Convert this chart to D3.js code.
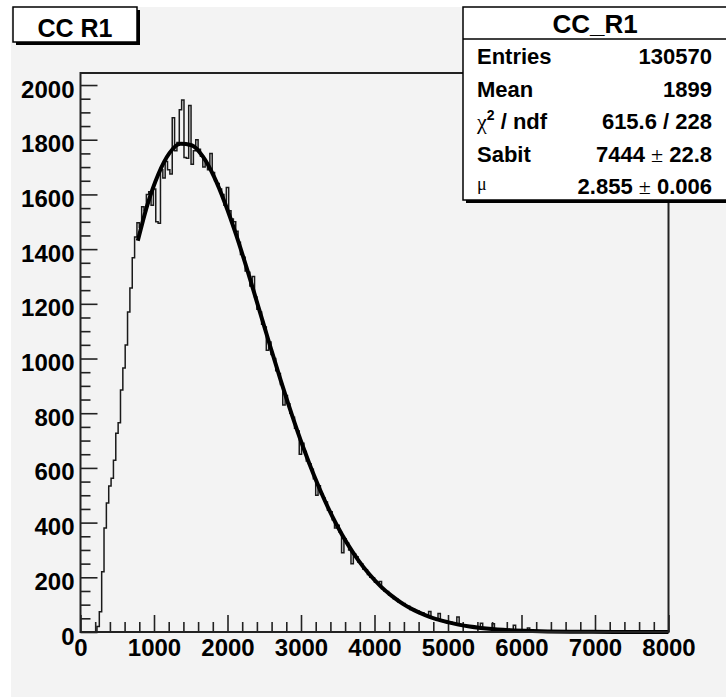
<!DOCTYPE html>
<html>
<head>
<meta charset="utf-8">
<script src="https://cdn.jsdelivr.net/npm/d3@7/dist/d3.min.js"></script>
<style>
  html, body { margin: 0; padding: 0; background: #ffffff; }
  svg { display: block; }
</style>
</head>
<body>
<svg id="chart" width="726" height="697"></svg>
<script>
// ---------------- data ----------------
const histTitle = "CC R1";
const statsTitle = "CC_R1";
const binWidth = 32;           // 250 bins over 0..8000
const xDomain = [0, 8000];
const yDomain = [0, 2044];
const xMajorTicks = [0, 1000, 2000, 3000, 4000, 5000, 6000, 7000, 8000];
const yMajorTicks = [0, 200, 400, 600, 800, 1000, 1200, 1400, 1600, 1800, 2000];

// bin contents
const counts = [
  // 0-6
  0, 0, 0, 0, 0, 0, 0,
  // 7-23
  20, 74, 220, 380, 472, 534, 562, 628, 727, 765, 885, 965, 1049, 1170, 1258, 1368, 1444,
  // 24-66
  1496, 1480, 1555, 1540, 1600, 1610, 1560, 1620, 1500, 1495,
  1690, 1660, 1720, 1690, 1675, 1880, 1760, 1790, 1910, 1945,
  1735, 1732, 1925, 1710, 1760, 1800, 1765, 1740, 1700, 1715,
  1690, 1750, 1680, 1650, 1640, 1620, 1600, 1560, 1625, 1540,
  1510, 1500, 1465,
  // 67-200
  1425, 1380, 1370, 1320, 1315, 1265, 1300, 1225, 1180, 1170,
  1125, 1115, 1030, 1060, 1015, 1000, 955, 945, 905, 830,
  865, 835, 800, 785, 745, 735, 650, 690, 660, 625,
  615, 595, 560, 500, 535, 505, 490, 475, 445, 440,
  410, 380, 390, 365, 290, 340, 325, 300, 250, 285,
  275, 255, 250, 230, 228, 210, 200, 198, 182, 180,
  185, 158, 150, 148, 135, 133, 122, 120, 110, 108,
  104, 95, 94, 82, 84, 76, 77, 68, 70, 62,
  63, 75, 52, 50, 48, 68, 43, 38, 40, 34,
  36, 30, 31, 55, 27, 22, 25, 20, 22, 18,
  19, 16, 18, 32, 13, 14, 11, 12, 30, 9,
  10, 8, 9, 7, 8, 6, 7, 25, 5, 6,
  4, 5, 3, 15, 4, 3, 2, 3, 2, 3,
  1, 2, 2, 1,
  // 201-210
  1, 2, 1, 0, 1, 1, 0, 1, 0, 1,
  // 211-230
  0, 1, 0, 0, 1, 0, 0, 0, 1, 0, 0, 0, 0, 1, 0, 0, 0, 0, 0, 0,
  // 231-249
  0, 0, 0, 0, 0, 0, 0, 0, 0, 0, 0, 0, 0, 0, 0, 0, 0, 0, 0
];

// fit curve
const fitX = [780, 907, 1059, 1210, 1361, 1512, 1664, 1815, 1966, 2118, 2269, 2420, 2571, 2723,
              2874, 3025, 3176, 3328, 3479, 3630, 3781, 3933, 4084, 4235, 4386, 4538, 4689, 4840,
              4992, 5143, 5294, 5445, 5597, 5748, 5899, 6050, 6353, 6655, 6958, 7260, 7563, 8000];
const fitY = [1431, 1559, 1674, 1751, 1785, 1780, 1739, 1666, 1568, 1452, 1324, 1189, 1054, 921,
              796, 679, 573, 478, 395, 323, 262, 210, 167, 132, 103, 80, 62, 47,
              36, 27, 20, 15, 11, 8, 5.9, 4.3, 2.2, 1.1, 0.5, 0.2, 0.1, 0.03];

const statLabels = ["Entries", "Mean", "chi2", "Sabit", "mu"];
const statValues = ["130570", "1899", "615.6 / 228", ["7444", "22.8"], ["2.855", "0.006"]];

// ---------------- drawing ----------------
const svg = d3.select("#chart");
const W = 726, H = 697;
const frame = { left: 80.5, right: 668.5, top: 73, bottom: 632 };
const sans = "'Liberation Sans', Arial, Helvetica, sans-serif";
const serif = "'Liberation Serif', 'DejaVu Serif', serif";
const padGray = "#f3f3f3";

svg.append("rect").attr("x", 0).attr("y", 0).attr("width", W).attr("height", H).attr("fill", "#ffffff");
svg.append("rect").attr("x", 11).attr("y", 7).attr("width", W - 11).attr("height", H - 7).attr("fill", padGray);

const x = d3.scaleLinear().domain(xDomain).range([frame.left, frame.right]);
const y = d3.scaleLinear().domain(yDomain).range([frame.bottom, frame.top]);

// minor ticks
const xMinor = d3.range(0, 8001, 200).filter(v => v % 1000 !== 0);
const yMinor = d3.range(0, 2044, 50).filter(v => v % 200 !== 0);

const gx = svg.append("g").attr("transform", `translate(0,${frame.bottom})`);
gx.call(d3.axisBottom(x).tickValues(xMinor).tickSizeInner(-10).tickSizeOuter(0).tickFormat(""));
gx.select(".domain").remove();
const gx2 = svg.append("g").attr("transform", `translate(0,${frame.bottom})`);
gx2.call(d3.axisBottom(x).tickValues(xMajorTicks).tickSizeInner(-17).tickSizeOuter(0).tickPadding(7).tickFormat(d3.format("d")));
gx2.select(".domain").remove();

const gy = svg.append("g").attr("transform", `translate(${frame.left},0)`);
gy.call(d3.axisLeft(y).tickValues(yMinor).tickSizeInner(-10).tickSizeOuter(0).tickFormat(""));
gy.select(".domain").remove();
const gy2 = svg.append("g").attr("transform", `translate(${frame.left},0)`);
gy2.call(d3.axisLeft(y).tickValues(yMajorTicks).tickSizeInner(-17).tickSizeOuter(0).tickPadding(6).tickFormat(d3.format("d")));
gy2.select(".domain").remove();

svg.selectAll(".tick line").attr("stroke", "#222").attr("stroke-width", 1.6);
[gx2, gy2].forEach(g => g.selectAll("text")
  .attr("font-family", sans).attr("font-weight", "bold").attr("font-size", 24).attr("fill", "#000"));
gy2.selectAll("text").attr("dy", "0.5em");
gx2.selectAll("text").attr("dy", "0.71em");

// histogram outline
const hist = d3.path();
hist.moveTo(x(0), y(0));
counts.forEach((c, i) => {
  hist.lineTo(x(i * binWidth), y(c));
  hist.lineTo(x((i + 1) * binWidth), y(c));
});
svg.append("path").attr("d", hist.toString())
  .attr("fill", "none").attr("stroke", "#1a1a1a").attr("stroke-width", 1.5);

// fit curve
const fitPts = fitX.map((v, i) => [v, fitY[i]]);
svg.append("path").datum(fitPts)
  .attr("d", d3.line().x(d => x(d[0])).y(d => y(d[1])).curve(d3.curveMonotoneX))
  .attr("fill", "none").attr("stroke", "#000").attr("stroke-width", 4).attr("stroke-linejoin", "round");

// frame
svg.append("rect")
  .attr("x", frame.left).attr("y", frame.top)
  .attr("width", frame.right - frame.left).attr("height", frame.bottom - frame.top)
  .attr("fill", "none").attr("stroke", "#222").attr("stroke-width", 2);

// title box
const tb = { x: 13, y: 7, w: 124, h: 35 };
svg.append("rect").attr("x", tb.x + 3).attr("y", tb.y + 3).attr("width", tb.w).attr("height", tb.h).attr("fill", "#000");
svg.append("rect").attr("x", tb.x).attr("y", tb.y).attr("width", tb.w).attr("height", tb.h)
  .attr("fill", "#fff").attr("stroke", "#000").attr("stroke-width", 1.5);
svg.append("text").attr("x", tb.x + tb.w / 2).attr("y", 36.5).attr("text-anchor", "middle")
  .attr("font-family", sans).attr("font-weight", "bold").attr("font-size", 25).text(histTitle);

// stats box
const sb = { x: 463, y: 7, w: 265, h: 193 };
svg.append("rect").attr("x", sb.x + 3).attr("y", sb.y + 3).attr("width", sb.w).attr("height", sb.h).attr("fill", "#000");
svg.append("rect").attr("x", sb.x).attr("y", sb.y).attr("width", sb.w).attr("height", sb.h)
  .attr("fill", "#fff").attr("stroke", "#000").attr("stroke-width", 1.5);
svg.append("line").attr("x1", sb.x).attr("x2", sb.x + sb.w).attr("y1", 39).attr("y2", 39)
  .attr("stroke", "#000").attr("stroke-width", 1.5);
svg.append("text").attr("x", 595).attr("y", 33).attr("text-anchor", "middle")
  .attr("font-family", sans).attr("font-weight", "bold").attr("font-size", 26).text(statsTitle);

const rowY = [64, 97, 129, 162, 194];
const labX = 477, valX = 712;
statLabels.forEach((lab, i) => {
  const t = svg.append("text").attr("x", labX).attr("y", rowY[i])
    .attr("font-family", sans).attr("font-weight", "bold").attr("font-size", 22);
  if (lab === "chi2") {
    t.append("tspan").attr("font-family", serif).attr("font-weight", "normal").text("χ");
    t.append("tspan").attr("font-size", 14).attr("dy", -9).text("2");
    t.append("tspan").attr("dy", 9).text(" / ndf");
  } else if (lab === "mu") {
    t.attr("y", rowY[i] - 4).append("tspan").attr("font-family", serif).attr("font-weight", "normal")
      .attr("font-size", 18).text("μ");
  } else {
    t.text(lab);
  }
  const v = svg.append("text").attr("x", valX).attr("y", rowY[i]).attr("text-anchor", "end")
    .attr("font-family", sans).attr("font-weight", "bold").attr("font-size", 22);
  const val = statValues[i];
  if (Array.isArray(val)) {
    v.append("tspan").text(val[0] + " ");
    v.append("tspan").attr("font-family", serif).attr("font-weight", "normal").text("±");
    v.append("tspan").text(" " + val[1]);
  } else {
    v.text(val);
  }
});
</script>
</body>
</html>
